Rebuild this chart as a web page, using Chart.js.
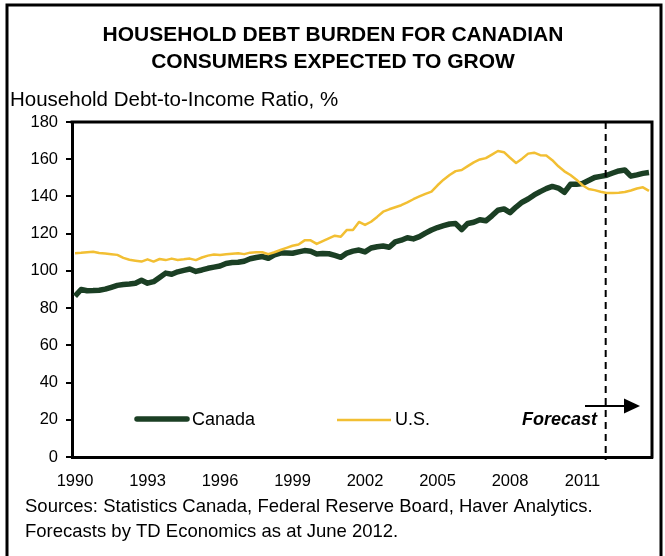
<!DOCTYPE html>
<html>
<head>
<meta charset="utf-8">
<script src="https://cdn.jsdelivr.net/npm/chart.js@4.4.1/dist/chart.umd.min.js"></script>
<style>
  html, body { margin: 0; padding: 0; background: #ffffff; }
  #wrap { width: 665px; height: 556px; position: relative; }
</style>
</head>
<body>
<div id="wrap"><canvas id="c" width="665" height="556"></canvas></div>
<script>
// ---- Data (quarterly, 1990Q1 .. 2013Q4; 2012Q1 onward is forecast) ----
const years = [1990,1991,1992,1993,1994,1995,1996,1997,1998,1999,2000,2001,
               2002,2003,2004,2005,2006,2007,2008,2009,2010,2011,2012,2013];
const quarters = [];
years.forEach(y => { for (let q = 1; q <= 4; q++) quarters.push(y + 'Q' + q); });

const tickYears = ['1990','1993','1996','1999','2002','2005','2008','2011'];

const canada = [
  86.5, 90.0, 89.3, 89.4,   89.6, 90.2, 91.2, 92.2,   92.7, 93.0, 93.4, 95.0,
  93.4, 94.2, 96.5, 98.8,   98.2, 99.5, 100.3, 101.0, 99.7, 100.5, 101.4, 102.0,
  102.6, 104.0, 104.5, 104.6, 105.2, 106.5, 107.2, 107.7, 106.8, 108.6, 109.6, 109.6,
  109.5, 110.2, 110.9, 110.5, 109.1, 109.4, 109.2, 108.3, 107.3, 109.6, 110.6, 111.2,
  110.2, 112.3, 113.0, 113.4, 112.7, 115.6, 116.5, 117.8, 117.2, 118.4, 120.3, 122.0,
  123.3, 124.3, 125.2, 125.4, 122.2, 125.5, 126.1, 127.5, 126.9, 129.6, 132.6, 133.3,
  131.3, 134.3, 136.9, 138.6, 140.8, 142.6, 144.2, 145.4, 144.5, 142.2, 146.5, 146.5,
  147.0, 148.6, 150.2, 150.8, 151.4, 152.6, 153.7, 154.2, 150.9, 151.6, 152.4, 152.9
];

const us = [
  109.5, 109.7, 110.0, 110.3, 109.6, 109.3, 109.0, 108.6, 107.0, 106.0, 105.5, 105.0,
  106.2, 105.0, 106.4, 105.8, 106.6, 105.9, 106.2, 106.6, 105.8, 107.2, 108.2, 108.8,
  108.6, 108.9, 109.2, 109.5, 109.0, 109.8, 110.0, 110.0, 109.0, 110.0, 111.2, 112.4,
  113.5, 114.2, 116.4, 116.4, 114.5, 116.0, 117.5, 118.9, 118.4, 122.0, 122.0, 126.3,
  124.7, 126.4, 129.0, 131.8, 133.1, 134.2, 135.3, 136.8, 138.5, 140.0, 141.4, 142.6,
  146.0, 149.0, 151.5, 153.6, 154.2, 156.3, 158.3, 159.9, 160.6, 162.5, 164.4, 163.8,
  160.8, 158.0, 160.3, 163.0, 163.5, 162.2, 162.0, 159.5, 156.2, 153.5, 151.5, 149.0,
  146.0, 144.0, 143.4, 142.5, 141.8, 141.8, 142.0, 142.4, 143.2, 144.3, 144.9, 143.0
];

const forecastStart = '2012Q1';
const seriesNames = ['Canada', 'U.S.'];
const titleLines = ['HOUSEHOLD DEBT BURDEN FOR CANADIAN', 'CONSUMERS EXPECTED TO GROW'];
const axisTitle = 'Household Debt-to-Income Ratio, %';
const sourceLines = ['Sources: Statistics Canada, Federal Reserve Board, Haver Analytics.',
                     'Forecasts by TD Economics as at June 2012.'];

const FONT = '"Liberation Sans", Arial, Helvetica, sans-serif';
const GREEN = '#1b3f24';
const GOLD = '#f2bf33';

const decorPlugin = {
  id: 'decor',
  afterDatasetsDraw(chart) {
    const ctx = chart.ctx;
    const a = chart.chartArea;
    const xs = chart.scales.x;
    ctx.save();
    // forecast dashed line
    const fx = xs.getPixelForValue(quarters.indexOf(forecastStart)) - 1;
    ctx.strokeStyle = '#000';
    ctx.lineWidth = 2;
    ctx.setLineDash([7, 5]);
    ctx.beginPath();
    ctx.moveTo(fx, a.top);
    ctx.lineTo(fx, a.bottom + 3);
    ctx.stroke();
    ctx.setLineDash([]);

    // plot frame (top & right)
    ctx.lineWidth = 3;
    ctx.beginPath();
    ctx.moveTo(a.left - 1.5, a.top);
    ctx.lineTo(a.right, a.top);
    ctx.lineTo(a.right, a.bottom + 1.5);
    ctx.stroke();

    // legend inside plot
    const ds = chart.data.datasets;
    ctx.lineCap = 'round';
    ctx.strokeStyle = ds[1].borderColor;
    ctx.lineWidth = ds[1].borderWidth;
    ctx.beginPath(); ctx.moveTo(137, 419); ctx.lineTo(187, 419); ctx.stroke();
    ctx.lineCap = 'butt';
    ctx.strokeStyle = ds[0].borderColor;
    ctx.lineWidth = ds[0].borderWidth;
    ctx.beginPath(); ctx.moveTo(337, 420); ctx.lineTo(391, 420); ctx.stroke();
    ctx.fillStyle = '#000';
    ctx.font = '18px ' + FONT;
    ctx.textAlign = 'left';
    ctx.textBaseline = 'middle';
    ctx.fillText(ds[1].label, 192, 420);
    ctx.fillText(ds[0].label, 395, 420);

    // forecast label and arrow
    ctx.font = 'italic bold 18px ' + FONT;
    ctx.textAlign = 'right';
    ctx.fillText('Forecast', 597, 420);
    ctx.strokeStyle = '#000';
    ctx.fillStyle = '#000';
    ctx.lineWidth = 2;
    ctx.beginPath(); ctx.moveTo(585, 406); ctx.lineTo(627, 406); ctx.stroke();
    ctx.beginPath();
    ctx.moveTo(624, 398.5); ctx.lineTo(640, 406); ctx.lineTo(624, 413.5); ctx.closePath();
    ctx.fill();
    ctx.restore();
  },
  afterDraw(chart) {
    const ctx = chart.ctx;
    ctx.save();
    ctx.fillStyle = '#000';
    ctx.textBaseline = 'middle';
    ctx.textAlign = 'center';
    ctx.font = 'bold 21px ' + FONT;
    ctx.fillText(titleLines[0], 333, 35);
    ctx.fillText(titleLines[1], 333, 62);
    ctx.textAlign = 'left';
    ctx.font = '20.5px ' + FONT;
    ctx.fillText(axisTitle, 10, 100);
    ctx.font = '18.5px ' + FONT;
    ctx.fillText(sourceLines[0], 25, 507);
    ctx.fillText(sourceLines[1], 25, 532);
    // outer border
    ctx.strokeStyle = '#000';
    ctx.lineWidth = 3;
    ctx.strokeRect(7, 5, 654, 570);
    ctx.restore();
  }
};

new Chart(document.getElementById('c'), {
  type: 'line',
  data: {
    labels: quarters,
    datasets: [
      { label: seriesNames[1], data: us, borderColor: GOLD, borderWidth: 2.5,
        pointRadius: 0, tension: 0, fill: false, order: 0, borderJoinStyle: 'round' },
      { label: seriesNames[0], data: canada, borderColor: GREEN, borderWidth: 5.5,
        pointRadius: 0, tension: 0, fill: false, order: 1, borderJoinStyle: 'round' }
    ]
  },
  options: {
    responsive: false,
    animation: false,
    devicePixelRatio: 1,
    layout: { padding: { left: 0, top: 122, right: 13, bottom: 59 } },
    plugins: {
      legend: { display: false },
      title: { display: false },
      tooltip: { enabled: false }
    },
    scales: {
      x: {
        type: 'category',
        offset: true,
        grid: { display: false, drawTicks: false },
        border: { display: true, color: '#000', width: 3 },
        ticks: {
          autoSkip: false,
          maxRotation: 0,
          minRotation: 0,
          padding: 15,
          color: '#000',
          font: { family: FONT, size: 16.5 },
          callback: function (v, i) {
            const lab = quarters[i];
            return (lab.endsWith('Q1') && tickYears.includes(lab.slice(0, 4))) ? lab.slice(0, 4) : '';
          }
        },
        afterFit: s => { s.height = 40; }
      },
      y: {
        min: 0, max: 180,
        grid: { drawOnChartArea: false, drawTicks: true, tickLength: 6, color: '#000', lineWidth: 2 },
        border: { display: true, color: '#000', width: 3 },
        ticks: { stepSize: 20, padding: 8, color: '#000', font: { family: FONT, size: 16.5 } },
        afterFit: s => { s.width = 72; }
      }
    }
  },
  plugins: [decorPlugin]
});
</script>
</body>
</html>
